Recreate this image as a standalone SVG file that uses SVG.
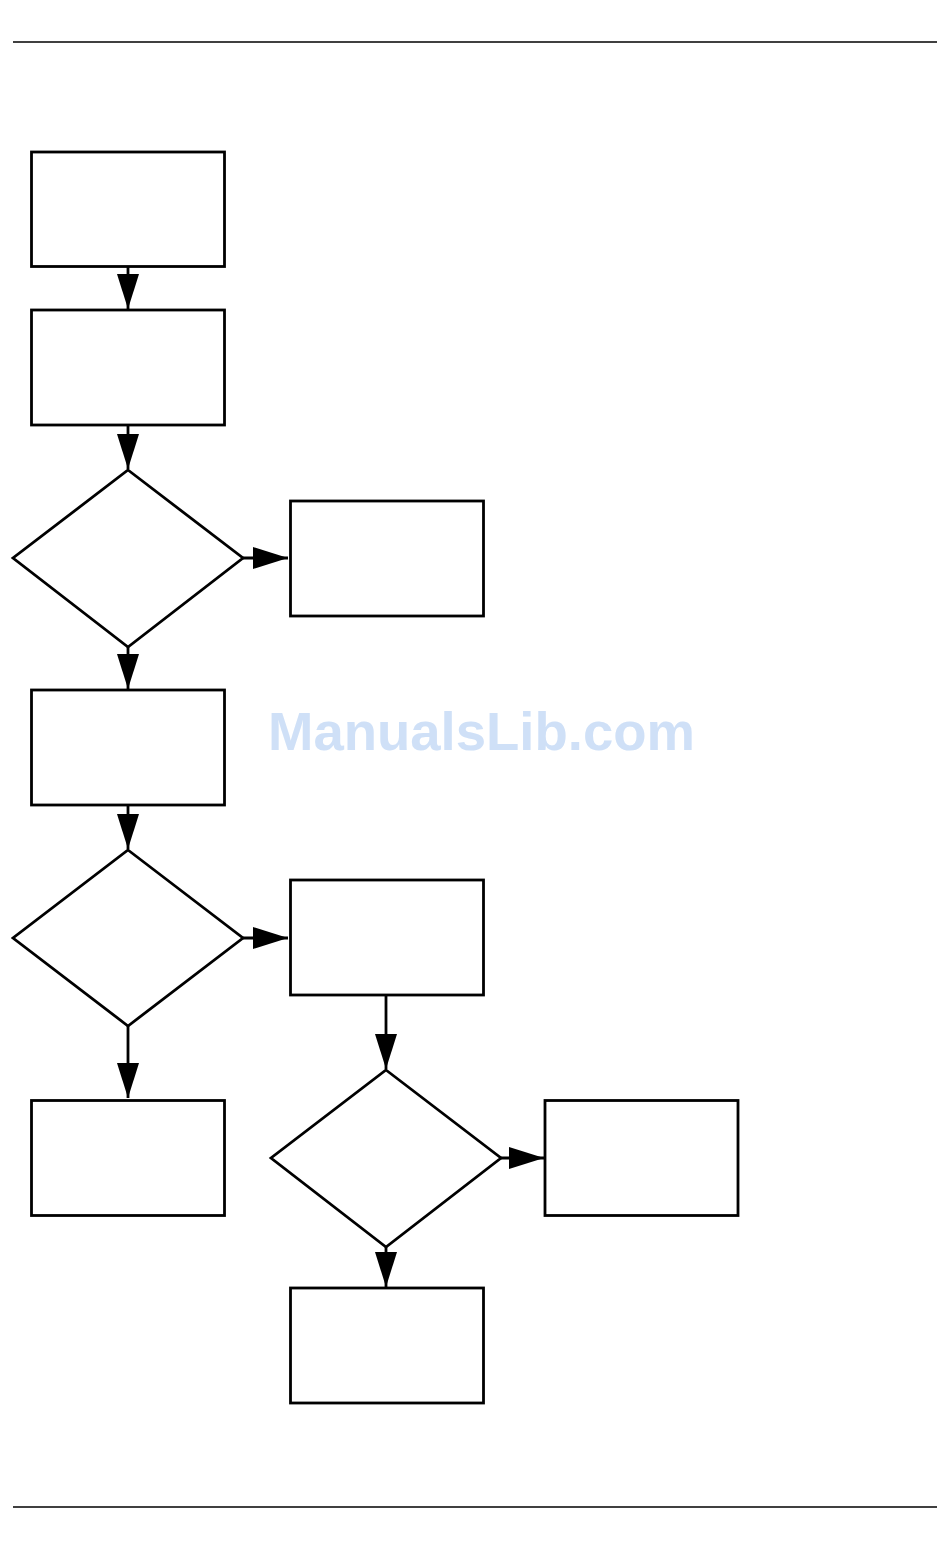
<svg xmlns="http://www.w3.org/2000/svg" width="950" height="1568" viewBox="0 0 950 1568">
<style>
.n{fill:#fff;stroke:#000;stroke-width:2.8}
.c{fill:none;stroke:#000;stroke-width:2.8}
.rule{stroke:#000;stroke-width:1.3}
.wm{font-family:"Liberation Sans",Arial,sans-serif;font-weight:bold;font-size:54.5px;fill:#cfe0f7}
</style>
<defs>
<marker id="ah" markerUnits="userSpaceOnUse" markerWidth="36" markerHeight="24" refX="35" refY="12" orient="auto">
<path d="M0,1 L35,12 L0,23 Z" fill="#000"/>
</marker>
</defs>
<rect width="950" height="1568" fill="#fff"/>
<line class="rule" x1="13" y1="42" x2="937" y2="42"/>
<line class="rule" x1="13" y1="1507" x2="937" y2="1507"/>
<text class="wm" x="268" y="750">ManualsLib.com</text>
<g id="connectors">
<line class="c" x1="128" y1="266" x2="128" y2="309" marker-end="url(#ah)"/>
<line class="c" x1="128" y1="425" x2="128" y2="469" marker-end="url(#ah)"/>
<line class="c" x1="243" y1="558" x2="288" y2="558" marker-end="url(#ah)"/>
<line class="c" x1="128" y1="647" x2="128" y2="689" marker-end="url(#ah)"/>
<line class="c" x1="128" y1="805" x2="128" y2="849" marker-end="url(#ah)"/>
<line class="c" x1="243" y1="938" x2="288" y2="938" marker-end="url(#ah)"/>
<line class="c" x1="128" y1="1026" x2="128" y2="1098" marker-end="url(#ah)"/>
<line class="c" x1="386" y1="995" x2="386" y2="1069" marker-end="url(#ah)"/>
<line class="c" x1="501" y1="1158" x2="544" y2="1158" marker-end="url(#ah)"/>
<line class="c" x1="386" y1="1247" x2="386" y2="1287" marker-end="url(#ah)"/>
</g>
<g id="box1"><rect class="n" x="31.5" y="152" width="193" height="114.5"/></g>
<g id="box2"><rect class="n" x="31.5" y="310" width="193" height="115"/></g>
<g id="decision1"><polygon class="n" points="128,470 243,558 128,647 13,558"/></g>
<g id="box_r1"><rect class="n" x="290.5" y="501" width="193" height="115"/></g>
<g id="box3"><rect class="n" x="31.5" y="690" width="193" height="115"/></g>
<g id="decision2"><polygon class="n" points="128,850 243,938 128,1026 13,938"/></g>
<g id="box_r2"><rect class="n" x="290.5" y="880" width="193" height="115"/></g>
<g id="box4"><rect class="n" x="31.5" y="1100.5" width="193" height="115"/></g>
<g id="decision3"><polygon class="n" points="386,1070 501,1158 386,1247 271,1158"/></g>
<g id="box_r3"><rect class="n" x="545" y="1100.5" width="193" height="115"/></g>
<g id="box5"><rect class="n" x="290.5" y="1288" width="193" height="115"/></g>
</svg>
